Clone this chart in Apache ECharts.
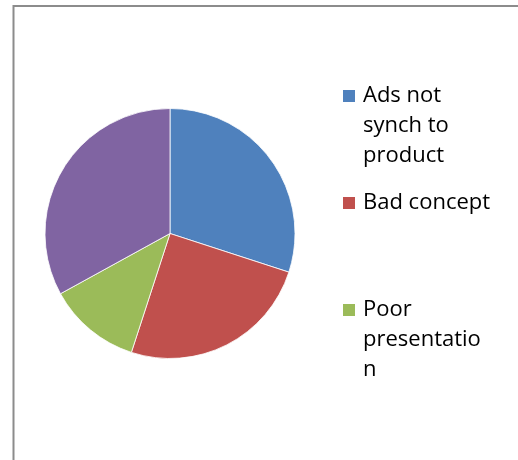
<!DOCTYPE html>
<html>
<head>
<meta charset="utf-8">
<script src="https://cdn.jsdelivr.net/npm/echarts@6/dist/echarts.min.js"></script>
<style>
html,body{margin:0;padding:0;background:#fff;}
#main{width:518px;height:460px;}
</style>
</head>
<body>
<div id="main"></div>
<script>
const categories = ['Ads not synch to product', 'Bad concept', 'Poor presentation', 'Other'];
const values = [30, 25, 12, 33];
const legendLabels = ['Ads not\nsynch to\nproduct', 'Bad concept', 'Poor\npresentatio\nn'];
const colors = ['#4F81BD', '#C0504D', '#9BBB59', '#8064A2'];

const chart = echarts.init(document.getElementById('main'), null, {renderer: 'canvas'});

const LH = 30;
function legendFor(i, iconCenter) {
  const lines = legendLabels[i].split('\n');
  const n = lines.length;
  // pad with empty lines above so the first line is centred on the icon
  const padded = (n > 1 ? '\n'.repeat(n - 1) : '') + legendLabels[i];
  const total = (2 * n - 1) * LH;
  return {
    show: true,
    data: [categories[i]],
    left: 341,
    top: iconCenter - total / 2,
    padding: 0,
    itemWidth: 14,
    itemHeight: 14,
    itemGap: 0,
    icon: 'rect',
    selectedMode: false,
    formatter: function () { return padded; },
    textStyle: {fontFamily: 'Open Sans', fontSize: 22, color: '#000', lineHeight: LH, padding: [0, 0, 0, 2]}
  };
}

chart.setOption({
  animation: false,
  color: colors,
  graphic: [{
    type: 'rect',
    shape: {x: 13.5, y: 6, width: 700, height: 700},
    style: {fill: 'none', stroke: '#8c8c8c', lineWidth: 2},
    silent: true
  }],
  legend: [
    legendFor(0, 96),
    legendFor(1, 203),
    legendFor(2, 310)
  ],
  series: [{
    type: 'pie',
    center: [170, 233.5],
    radius: 125,
    startAngle: 90,
    clockwise: true,
    label: {show: false},
    labelLine: {show: false},
    emphasis: {disabled: true},
    itemStyle: {borderColor: '#fff', borderWidth: 0.8},
    data: categories.map((c, i) => ({name: c, value: values[i]}))
  }]
});
</script>
</body>
</html>
